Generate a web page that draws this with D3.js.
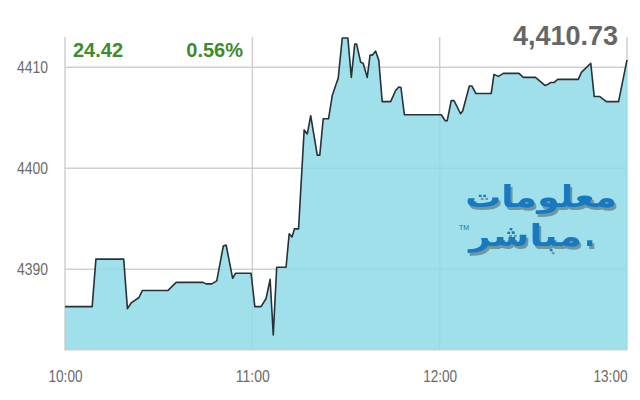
<!DOCTYPE html>
<html>
<head>
<meta charset="utf-8">
<script src="https://cdn.jsdelivr.net/npm/d3@7"></script>
<style>
  body { margin: 0; background: #fff; }
  svg { display: block; }
</style>
</head>
<body>
<svg id="chart" width="640" height="400"></svg>
<script>
// minutes after 10:00 and index value at that time
const minutes = [0, 8.7, 9.9, 18.8, 20.0, 21.3, 23.7, 24.8, 33.0, 35.6, 44.1, 45.2, 47.0, 48.6,
  50.7, 51.6, 53.7, 54.6, 59.6, 60.8, 62.8, 64.4, 65.7, 66.7, 67.8, 70.8, 71.8, 72.7, 73.5,
  74.8, 76.6, 77.6, 78.7, 80.8, 81.6, 82.7, 84.4, 85.6, 86.9, 87.5, 88.8, 90.6, 91.7, 92.8,
  93.4, 94.7, 95.5, 96.8, 97.7, 98.4, 99.5, 100.5, 101.6, 104.3, 105.9, 106.9, 107.6, 108.7,
  120.5, 121.8, 122.4, 123.7, 124.6, 126.7, 127.4, 129.5, 130.3, 131.6, 136.5, 137.4, 138.8,
  140.4, 145.4, 146.8, 150.7, 153.7, 154.6, 155.6, 156.7, 157.8, 164.4, 165.4, 168.4, 169.5,
  171.3, 173.4, 177.3, 180];
const prices = [4386.3, 4386.3, 4391.0, 4391.0, 4386.1, 4386.7, 4387.2, 4387.9, 4387.9, 4388.7,
  4388.7, 4388.55, 4388.55, 4388.85, 4392.3, 4392.4, 4389.1, 4389.6, 4389.6, 4386.3, 4386.3,
  4387.1, 4389.0, 4383.5, 4390.2, 4390.2, 4393.5, 4393.2, 4394.0, 4394.0, 4403.8, 4403.4,
  4405.2, 4401.3, 4401.3, 4404.9, 4404.9, 4407.2, 4408.4, 4408.9, 4412.9, 4412.9, 4409.0,
  4412.3, 4412.3, 4410.5, 4410.4, 4409.0, 4411.2, 4411.2, 4411.6, 4410.7, 4406.6, 4406.6,
  4407.7, 4408.05, 4408.0, 4405.3, 4405.3, 4404.7, 4404.7, 4406.7, 4406.7, 4405.4, 4405.7,
  4408.15, 4408.15, 4407.4, 4407.4, 4409.3, 4409.1, 4409.4, 4409.4, 4409.0, 4409.0, 4408.2,
  4408.3, 4408.5, 4408.5, 4408.8, 4408.8, 4409.5, 4410.4, 4407.1, 4407.1, 4406.6, 4406.6, 4410.73];

const yTicks = [4390, 4400, 4410];
const xTicks = ["10:00", "11:00", "12:00", "13:00"];
const lastValue = "4,410.73";
const change = "24.42";
const changePct = "0.56%";

const svg = d3.select("#chart");
const margin = {top: 37, right: 13, bottom: 50, left: 65};
const width = 640 - margin.left - margin.right;
const height = 400 - margin.top - margin.bottom;

const parseHM = d3.timeParse("%H:%M");
const t0 = parseHM("10:00");
const toDate = m => new Date(t0.getTime() + m * 60000);

const data = minutes.map((m, i) => ({t: toDate(m), v: prices[i]}));

const x = d3.scaleTime()
  .domain([parseHM("10:00"), parseHM("13:00")])
  .range([margin.left, margin.left + width]);
const y = d3.scaleLinear()
  .domain([4382, 4413])
  .range([margin.top + height, margin.top]);

// shadow for the logo
const defs = svg.append("defs");
defs.append("filter").attr("id", "shadow")
  .attr("x", "-10%").attr("y", "-20%").attr("width", "130%").attr("height", "150%")
  .append("feDropShadow")
  .attr("dx", 2).attr("dy", 3).attr("stdDeviation", 0.6)
  .attr("flood-color", "#5d7f86").attr("flood-opacity", 0.75);

// grid
const grid = svg.append("g").attr("stroke", "#cfcfcf").attr("stroke-width", 1.5);
grid.selectAll("line.h")
  .data(yTicks)
  .enter().append("line")
  .attr("x1", margin.left).attr("x2", margin.left + width)
  .attr("y1", d => y(d)).attr("y2", d => y(d));
grid.selectAll("line.v")
  .data(xTicks)
  .enter().append("line")
  .attr("x1", d => x(parseHM(d))).attr("x2", d => x(parseHM(d)))
  .attr("y1", margin.top).attr("y2", margin.top + height);
grid.append("line")
  .attr("x1", margin.left).attr("x2", margin.left + width)
  .attr("y1", margin.top + height).attr("y2", margin.top + height)
  .attr("stroke", "#e2e2e2");

// area + line
const area = d3.area()
  .x(d => x(d.t))
  .y0(y(4382))
  .y1(d => y(d.v));
const line = d3.line()
  .x(d => x(d.t))
  .y(d => y(d.v));

svg.append("path")
  .datum(data)
  .attr("d", area)
  .attr("fill", "#8edae6")
  .attr("fill-opacity", 0.85);

// logo watermark
const logo = svg.append("g")
  .attr("font-family", "'DejaVu Sans', sans-serif")
  .attr("font-weight", "bold")
  .attr("fill", "#1579c2")
  .attr("filter", "url(#shadow)");
logo.append("g").attr("transform", "translate(617,207) scale(1.2,1)")
  .append("text").attr("text-anchor", "end").attr("font-size", 30)
  .text("معلومات");
logo.append("g").attr("transform", "translate(582,246) scale(1.25,1)")
  .append("text").attr("text-anchor", "end").attr("font-size", 30)
  .text("مباشر");
logo.append("text").attr("x", 584).attr("y", 246)
  .attr("font-size", 30).text(".");
svg.append("text").attr("x", 459).attr("y", 230)
  .attr("font-size", 7).attr("fill", "#1579c2")
  .attr("font-family", "Arial, sans-serif").text("TM");

svg.append("path")
  .datum(data)
  .attr("d", line)
  .attr("fill", "none")
  .attr("stroke", "#263238")
  .attr("stroke-width", 1.6)
  .attr("stroke-linejoin", "round");

// axes labels
const axisFont = "'Liberation Sans', Arial, sans-serif";
const yAxis = d3.axisLeft(y).tickValues(yTicks).tickFormat(d3.format("d")).tickSize(0).tickPadding(17);
svg.append("g")
  .attr("transform", "translate(" + margin.left + ",0)")
  .call(yAxis)
  .call(g => g.select(".domain").remove())
  .selectAll("text")
  .attr("font-family", axisFont)
  .attr("font-size", 17)
  .attr("fill", "#6b6b6b")
  .attr("textLength", 31)
  .attr("lengthAdjust", "spacingAndGlyphs");

const xAxis = d3.axisBottom(x)
  .tickValues(xTicks.map(parseHM))
  .tickFormat(d3.timeFormat("%H:%M"))
  .tickSize(0).tickPadding(20);
svg.append("g")
  .attr("transform", "translate(0," + (margin.top + height) + ")")
  .call(xAxis)
  .call(g => g.select(".domain").remove())
  .selectAll("text")
  .attr("font-family", axisFont)
  .attr("font-size", 17)
  .attr("fill", "#6b6b6b")
  .attr("textLength", 34)
  .attr("lengthAdjust", "spacingAndGlyphs")
  .attr("text-anchor", (d, i) => i === xTicks.length - 1 ? "end" : "middle");

// header numbers
svg.append("text")
  .attr("x", 73).attr("y", 57)
  .attr("font-family", "Arial, 'Liberation Sans', sans-serif")
  .attr("font-weight", "bold").attr("font-size", 20)
  .attr("fill", "#3d8b2f")
  .text(change);
svg.append("text")
  .attr("x", 243).attr("y", 57)
  .attr("text-anchor", "end")
  .attr("font-family", "Arial, 'Liberation Sans', sans-serif")
  .attr("font-weight", "bold").attr("font-size", 20)
  .attr("fill", "#3d8b2f")
  .text(changePct);
svg.append("text")
  .attr("x", 618).attr("y", 45)
  .attr("text-anchor", "end")
  .attr("font-family", "Arial, 'Liberation Sans', sans-serif")
  .attr("font-weight", "bold").attr("font-size", 27)
  .attr("fill", "#666")
  .text(lastValue);
</script>
</body>
</html>
